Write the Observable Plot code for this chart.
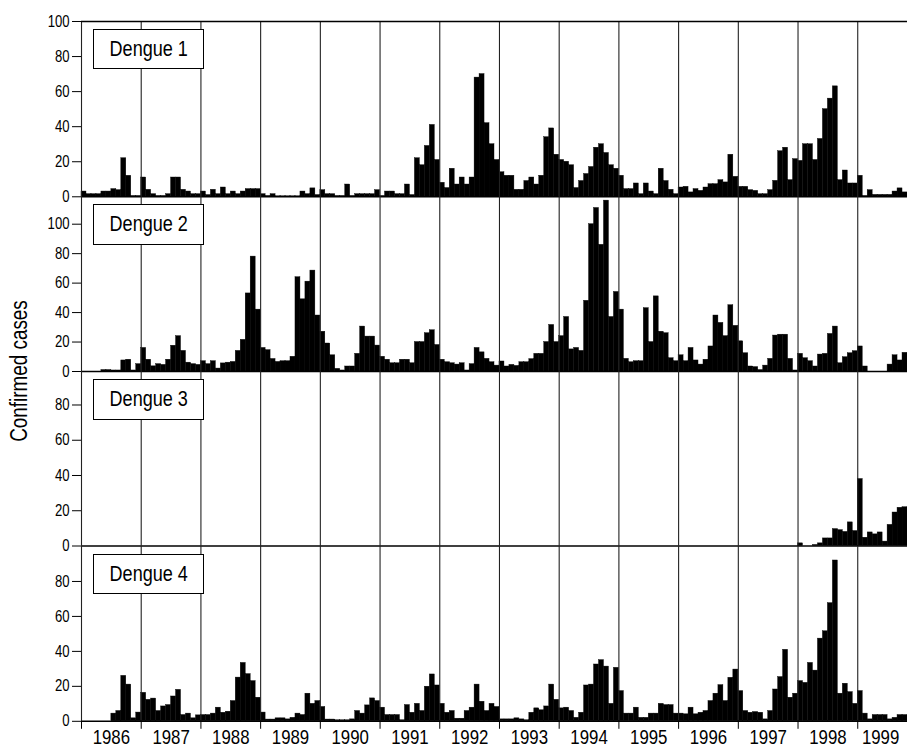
<!DOCTYPE html>
<html>
<head>
<meta charset="utf-8">
<script src="https://cdn.jsdelivr.net/npm/d3@7"></script>
<script src="https://cdn.jsdelivr.net/npm/@observablehq/plot@0.6"></script>
<style>
  html, body { margin: 0; padding: 0; background: #fff; }
  #chart { position: relative; width: 907px; height: 747px; overflow: hidden; background: #fff;
           font-family: "Liberation Sans", Arial, sans-serif; color: #000; }
  .tag { position: absolute; box-sizing: border-box; border: 1.2px solid #000; background: #fff;
         display: flex; align-items: center; justify-content: center; font-size: 22px; }
  .tag span { display: inline-block; transform: scaleX(0.82); white-space: nowrap; }
  #ylab { position: absolute; left: 18.75px; top: 371px; transform: translate(-50%, -50%) rotate(-90deg) scaleX(0.82);
          font-size: 23px; white-space: nowrap; line-height: normal; }
</style>
</head>
<body>
<div id="chart"><div id="ylab">Confirmed cases</div></div>
<script>
// Monthly confirmed cases, Jan 1986 – Oct 1999 (one row per year)
const dengue1 = [
  3,1.5,1.5,1.5,3,3,4.4,3.8,22,12,0.5,0.5,        // 1986
  11,4,1.5,0.5,0.5,1.5,11,11,4,3,1.5,1.5,         // 1987
  3,1,4,1.5,5.3,1.5,3,1.5,3,4.4,4.4,4.4,          // 1988
  1.5,0.5,1.5,0.3,0.3,0.3,0.3,0.3,3,1.5,4.8,1,    // 1989
  3.8,1.5,1.5,0.5,0.5,7,0.5,1.5,1.5,1.5,1.5,3.8,  // 1990
  0.5,3,3,1.5,1.5,7,1,22,18,29,41,21,             // 1991
  8,5,16,7,11,7,11,68,70,42,30,21,                // 1992
  14,12,12,4,4,9,11,7,12,34,39,24,                // 1993
  21,20,18,5,9,13,17,28,30,25,18,16,              // 1994
  12,4.4,4.4,7.6,1.5,7.6,3,1.5,16,9,4,1.5,        // 1995
  5.3,5.7,2.5,4.4,3.4,5.3,7.2,7.2,9.5,8.2,24,11.4,// 1996
  5.7,5.7,3.8,3.4,1.5,1.5,3.8,9.1,26,28,9.5,21.5, // 1997
  20.5,30,30,21,33,50,56,63,9.5,15,7.6,7.6,       // 1998
  12,0.5,3.8,1.1,1.1,1.1,1.1,3,4.8,2.5            // 1999
];
const dengue2 = [
  0,0,0,0,1,1,0.7,0.7,7.5,8,0.7,5,                // 1986
  16,8,3.5,5,4.5,8,17.5,24,14,6,5,4.5,            // 1987
  7,5,7,2,5.5,6,6.5,14,21.5,53,78,42,             // 1988
  16,14.5,8.5,6.5,7,7,10,64,49,61,68.5,38,        // 1989
  27,19,11,1.8,0.7,3.4,3.4,12,30.5,23.7,23.7,17.6,// 1990
  10,8,5.6,5.6,8,8,5.6,20,20,26,28,18,            // 1991
  8,6.3,5.6,4.7,5.6,0.7,5,16,13,8.6,6.3,4,        // 1992
  6.8,3.4,4.5,3.8,6.3,6.3,8.4,12,12,20,31.6,20,   // 1993
  24,37,15,16,14,48,100,111,86,116,37,54,         // 1994
  42,8.6,6.3,7,7,43,20,51,27,26,9,7,              // 1995
  11,7,16,7.5,4.7,8,17,38,33,24,45,31,            // 1996
  20.5,12.4,3.4,3,1,4,8.6,24.4,25,25,8.6,0.7,     // 1997
  12,9,7,3.4,11.5,12,25.5,30.5,5.6,9.7,12.4,13.8, // 1998
  17,3.4,0,0,0,0,4.7,11,7.5,12.7                  // 1999
];
const dengue3 = [
  0,0,0,0,0,0,0,0,0,0,0,0,  // 1986
  0,0,0,0,0,0,0,0,0,0,0,0,  // 1987
  0,0,0,0,0,0,0,0,0,0,0,0,  // 1988
  0,0,0,0,0,0,0,0,0,0,0,0,  // 1989
  0,0,0,0,0,0,0,0,0,0,0,0,  // 1990
  0,0,0,0,0,0,0,0,0,0,0,0,  // 1991
  0,0,0,0,0,0,0,0,0,0,0,0,  // 1992
  0,0,0,0,0,0,0,0,0,0,0,0,  // 1993
  0,0,0,0,0,0,0,0,0,0,0,0,  // 1994
  0,0,0,0,0,0,0,0,0,0,0,0,  // 1995
  0,0,0,0,0,0,0,0,0,0,0,0,  // 1996
  0,0,0,0,0,0,0,0,0,0,0,0,  // 1997
  1.5,0,0,0.6,1.5,4.3,4.3,9.6,9,8,13.4,8.5,       // 1998
  38,4.7,7.7,6.6,7.7,2.5,12,19,21.7,22            // 1999
];
const dengue4 = [
  0,0,0,0,0,0,4.4,5.9,26,21,1.7,5,                // 1986
  16.3,12.3,13,5.9,8.5,9.3,14.2,18,3.6,4.4,1.7,3.4, // 1987
  3.6,3.6,4.4,7.8,4.9,5.5,11.6,25,33.4,27,23,13.5,// 1988
  5,1,1,1.7,1.7,1.1,2,4.4,3.6,15.8,10,11.6,       // 1989
  8.2,1,1,0.6,0.6,0.6,1.1,5.9,4.4,9.1,13.1,11.6,  // 1990
  7.8,3.6,3.6,3.6,0.6,9.3,4.9,10,5.9,19.8,26.8,20.5, // 1991
  10,4.9,5.9,1.5,1.5,5.9,7.8,21,11.2,5.9,10,8.2,  // 1992
  1.1,1.1,1.1,1.7,1.1,0.6,4.9,7.4,6.3,8.5,21,12.3,// 1993
  7.4,7.8,5.9,2,4.9,20.5,21,32.5,35,31.3,10,30.6, // 1994
  17.3,4.4,4.4,7.8,2,2,4.4,4.4,10,9.3,9.3,4.4,    // 1995
  4.4,4,7.8,4,4.9,5.9,11.6,15.8,20.7,11.6,24.9,29.6, // 1996
  17.3,5.9,4.9,5.3,4.9,1.1,5.9,18.2,25.3,40.9,13.5,15.8, // 1997
  23,22,33.4,29,47.3,51.5,67.6,92,15.8,21.5,16.7,10, // 1998
  17.3,4.4,1.1,3.6,3.6,3.6,1.1,2,3.6,3.6          // 1999
];

const serotypes = ["Dengue 1", "Dengue 2", "Dengue 3", "Dengue 4"];
const yearLabels = [1986,1987,1988,1989,1990,1991,1992,1993,1994,1995,1996,1997,1998,1999];
const yTicks100 = [0,20,40,60,80,100];
const yTicks80 = [0,20,40,60,80];
const startYear = 1986;

const FONT = '"Liberation Sans", Arial, sans-serif';
const NARROW = 0.82; // emulate a condensed face
const xDomain = [startYear, 1999 + 10/12];

const panels = [
  {name: serotypes[0], values: dengue1, yMax: 100,   ticks: yTicks100, top: 20.7,  h: 175.3},
  {name: serotypes[1], values: dengue2, yMax: 118.8, ticks: yTicks100, top: 196,   h: 175},
  {name: serotypes[2], values: dengue3, yMax: 99,    ticks: yTicks80,  top: 371,   h: 174.5},
  {name: serotypes[3], values: dengue4, yMax: 100,   ticks: yTicks80,  top: 545.5, h: 174.8}
];

const chart = document.getElementById("chart");

function condense(svg) {
  svg.querySelectorAll("text").forEach(t => {
    const w = t.getComputedTextLength();
    if (w > 0) {
      t.setAttribute("textLength", (w * NARROW).toFixed(2));
      t.setAttribute("lengthAdjust", "spacingAndGlyphs");
    }
  });
}

panels.forEach((p, k) => {
  const last = k === panels.length - 1;
  const rows = p.values.map((v, i) => ({x1: startYear + i / 12, x2: startYear + (i + 1) / 12, y: v}));
  const bottom = last ? 26.7 : 0;
  const marks = [
    Plot.rectY(rows, {x1: "x1", x2: "x2", y: "y", fill: "#000", stroke: "#000", strokeWidth: 0.4, inset: 0}),
    Plot.ruleX(yearLabels, {stroke: "#222", strokeWidth: 1.1}),
    Plot.ruleY([0], {stroke: "#000", strokeWidth: 1.4}),
    Plot.axisY({ticks: p.ticks, tickSize: 9, tickPadding: 3, fontSize: 16, label: null, anchor: "left"})
  ];
  if (k === 0) marks.push(Plot.ruleY([p.yMax], {stroke: "#000", strokeWidth: 1.4}));
  if (last) {
    const mids = yearLabels.map(y => y + 0.5);
    marks.push(Plot.axisX({ticks: yearLabels, tickSize: 8, tickFormat: () => "", label: null}));
    marks.push(Plot.axisX({ticks: mids.slice(0, -1), tickSize: 0, tickPadding: 8,
      tickFormat: d => String(Math.floor(d)), fontSize: 20.5, label: null}));
    // the last year sits at the clipped right edge; nudge it inwards
    marks.push(Plot.axisX({ticks: mids.slice(-1), tickSize: 0, tickPadding: 8, dx: -7,
      tickFormat: d => String(Math.floor(d)), fontSize: 20.5, label: null}));
  }
  const svg = Plot.plot({
    width: 907,
    height: p.h + bottom,
    marginLeft: 81, marginRight: 0, marginTop: 0, marginBottom: bottom,
    x: {domain: xDomain, axis: null},
    y: {domain: [0, p.yMax], axis: null},
    style: {overflow: "visible", background: "transparent", fontFamily: FONT, color: "#000"},
    marks
  });
  svg.style.position = "absolute";
  svg.style.top = p.top + "px";
  svg.style.left = "0px";
  chart.appendChild(svg);
  condense(svg);

  const tag = document.createElement("div");
  tag.className = "tag";
  const span = document.createElement("span");
  span.textContent = p.name;
  tag.appendChild(span);
  tag.style.left = "92.7px";
  tag.style.top = (p.top + 8.3) + "px";
  tag.style.width = "111.6px";
  tag.style.height = "40.3px";
  chart.appendChild(tag);
});
chart.appendChild(document.getElementById("ylab"));
</script>
</body>
</html>
